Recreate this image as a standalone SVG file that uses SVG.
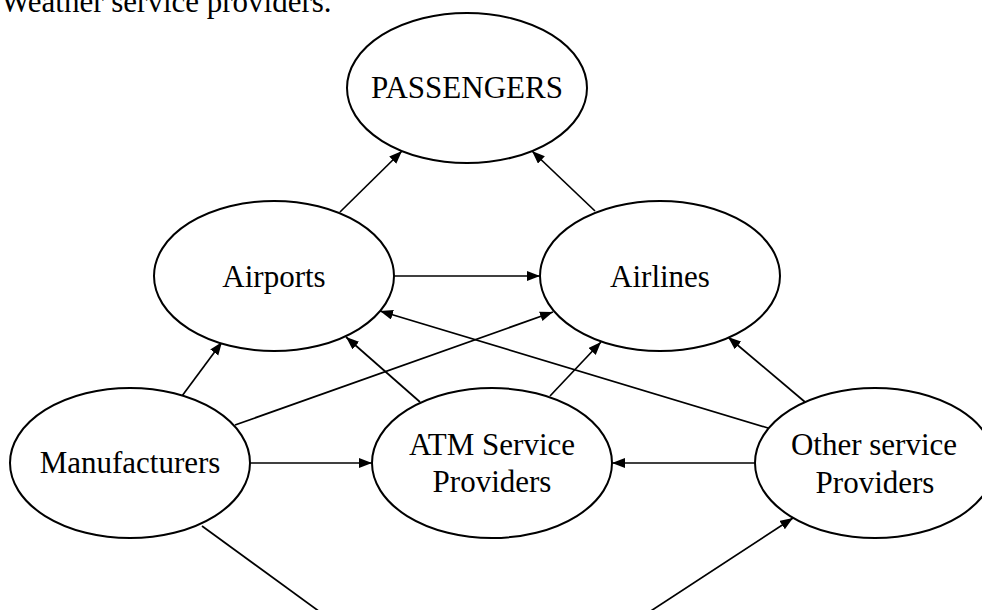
<svg xmlns="http://www.w3.org/2000/svg" width="982" height="610" viewBox="0 0 982 610">
  <style>
    .node { fill: #fff; stroke: #000; stroke-width: 2; }
    .lbl { font-family: "Liberation Serif", "Times New Roman", serif; font-size: 31px; fill: #000; text-anchor: middle; }
    .cap { font-family: "Liberation Serif", "Times New Roman", serif; font-size: 31px; fill: #000; }
    .edge { stroke: #000; stroke-width: 1.7; fill: none; }
    .arr { marker-end: url(#head); }
  </style>
  <defs>
    <marker id="head" markerUnits="userSpaceOnUse" markerWidth="14" markerHeight="11" refX="13" refY="5" orient="auto">
      <path d="M0,0 L13,5 L0,10 z" fill="#000"/>
    </marker>
  </defs>
  <rect width="982" height="610" fill="#fff"/>

  <text class="cap" x="1" y="12">Weather service providers.</text>

  <g id="connectors">
    <line class="edge arr" x1="340" y1="212" x2="402" y2="151"/>
    <line class="edge arr" x1="595" y1="211" x2="532" y2="151"/>
    <line class="edge arr" x1="394" y1="276" x2="540" y2="276"/>
    <line class="edge arr" x1="182" y1="396" x2="222" y2="342"/>
    <line class="edge arr" x1="235" y1="425" x2="553" y2="312"/>
    <line class="edge arr" x1="420" y1="402" x2="346" y2="337"/>
    <line class="edge arr" x1="550" y1="396" x2="601" y2="342"/>
    <line class="edge arr" x1="805" y1="402" x2="728" y2="337"/>
    <line class="edge arr" x1="768" y1="428" x2="380" y2="311"/>
    <line class="edge arr" x1="755" y1="463" x2="612" y2="463"/>
    <line class="edge arr" x1="250" y1="463" x2="372" y2="463"/>
    <line class="edge" x1="202" y1="526" x2="331" y2="620"/>
    <line class="edge arr" x1="637" y1="620" x2="793" y2="518"/>
  </g>

  <g id="passengers">
    <ellipse class="node" cx="467" cy="88" rx="120" ry="75"/>
    <text class="lbl" x="467" y="98">PASSENGERS</text>
  </g>
  <g id="airports">
    <ellipse class="node" cx="274" cy="276" rx="120" ry="75"/>
    <text class="lbl" x="274" y="287">Airports</text>
  </g>
  <g id="airlines">
    <ellipse class="node" cx="660" cy="276" rx="120" ry="75"/>
    <text class="lbl" x="660" y="287">Airlines</text>
  </g>
  <g id="manufacturers">
    <ellipse class="node" cx="130" cy="463" rx="120" ry="75"/>
    <text class="lbl" x="130" y="473">Manufacturers</text>
  </g>
  <g id="atm-service-providers">
    <ellipse class="node" cx="492" cy="463" rx="120" ry="75"/>
    <text class="lbl" x="492" y="455">ATM Service</text>
    <text class="lbl" x="492" y="492">Providers</text>
  </g>
  <g id="other-service-providers">
    <ellipse class="node" cx="875" cy="463" rx="120" ry="75"/>
    <text class="lbl" x="874" y="455">Other service</text>
    <text class="lbl" x="875" y="493">Providers</text>
  </g>
</svg>
